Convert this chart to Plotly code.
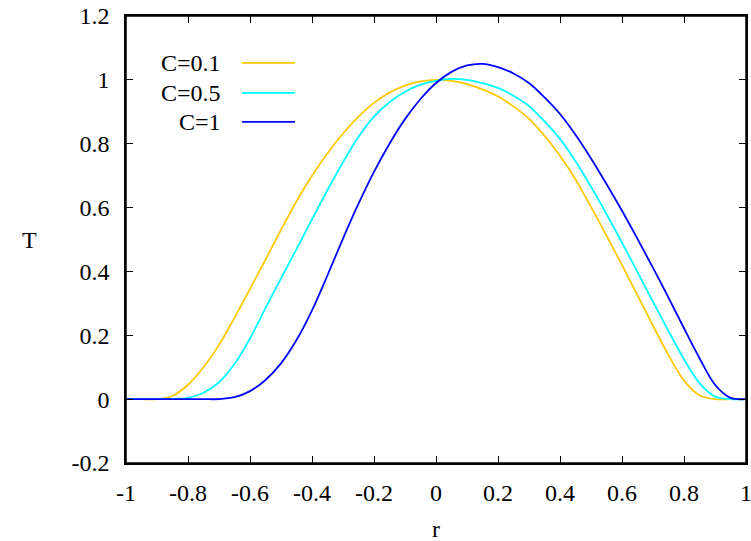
import plotly.graph_objects as go

r_vals = [-1.0, -0.95, -0.9, -0.85, -0.8, -0.75, -0.7, -0.65, -0.6, -0.55, -0.5, -0.45, -0.4,
          -0.35, -0.3, -0.25, -0.2, -0.15, -0.1, -0.05, 0.0, 0.05, 0.1, 0.15, 0.2, 0.25, 0.3,
          0.35, 0.4, 0.45, 0.5, 0.55, 0.6, 0.65, 0.7, 0.75, 0.8, 0.85, 0.9, 0.95, 1.0]

T_c01 = [0, 0, 0, 0.01, 0.045, 0.1, 0.17, 0.255, 0.345, 0.437, 0.53, 0.62, 0.70,
         0.77, 0.832, 0.885, 0.928, 0.96, 0.982, 0.995, 1.0, 0.997, 0.987, 0.97, 0.948, 0.917, 0.878,
         0.825, 0.762, 0.688, 0.602, 0.512, 0.42, 0.325, 0.23, 0.138, 0.058, 0.012, 0, 0, 0]

T_c05 = [0, 0, 0, 0, 0.004, 0.02, 0.053, 0.11, 0.19, 0.285, 0.378, 0.47, 0.563,
         0.655, 0.742, 0.822, 0.885, 0.93, 0.963, 0.985, 0.997, 1.003, 1.0, 0.99, 0.975, 0.95, 0.918,
         0.87, 0.815, 0.745, 0.665, 0.58, 0.49, 0.398, 0.305, 0.213, 0.125, 0.05, 0.008, 0, 0]

T_c1 = [0, 0, 0, 0, 0, 0, 0, 0.006, 0.025, 0.06, 0.112, 0.185, 0.278,
        0.388, 0.503, 0.612, 0.712, 0.80, 0.877, 0.94, 0.99, 1.025, 1.045, 1.05, 1.04, 1.02, 0.99,
        0.945, 0.893, 0.828, 0.754, 0.674, 0.59, 0.502, 0.411, 0.318, 0.222, 0.128, 0.045, 0.004, 0]

series_names = ["C=0.1", "C=0.5", "C=1"]
series_vals = [T_c01, T_c05, T_c1]
series_colors = ["#ffc800", "#00ffff", "#0000ff"]

x_ticks = [-1, -0.8, -0.6, -0.4, -0.2, 0, 0.2, 0.4, 0.6, 0.8, 1]
x_labels = ["-1", "-0.8", "-0.6", "-0.4", "-0.2", "0", "0.2", "0.4", "0.6", "0.8", "1"]
y_ticks = [-0.2, 0, 0.2, 0.4, 0.6, 0.8, 1, 1.2]
y_labels = ["-0.2", "0", "0.2", "0.4", "0.6", "0.8", "1", "1.2"]

FONT = "Liberation Serif"
FS = 24

fig = go.Figure()
for name, vals, col in zip(series_names, series_vals, series_colors):
    fig.add_trace(go.Scatter(x=r_vals, y=vals, mode="lines", name=name,
                             line=dict(color=col, width=1.8, shape="spline", smoothing=0.9),
                             showlegend=False))

# gnuplot-style key: text on the left, sample line on the right
key_y = [0.895, 0.828, 0.763]
for name, col, ky in zip(series_names, series_colors, key_y):
    fig.add_annotation(x=0.156, y=ky, xref="paper", yref="paper", text=name,
                       showarrow=False, xanchor="right", yanchor="middle",
                       font=dict(family=FONT, size=FS, color="black"))
    fig.add_shape(type="line", xref="paper", yref="paper", x0=0.187, x1=0.2726,
                  y0=ky, y1=ky, line=dict(color=col, width=1.8))

fig.add_annotation(x=-0.155, y=0.5, xref="paper", yref="paper", text="T",
                   showarrow=False, xanchor="center", yanchor="middle",
                   font=dict(family=FONT, size=FS, color="black"))
fig.add_annotation(x=0.5, y=-0.148, xref="paper", yref="paper", text="r",
                   showarrow=False, xanchor="center", yanchor="middle",
                   font=dict(family=FONT, size=FS, color="black"))

# plot frame
fig.add_shape(type="rect", xref="paper", yref="paper", x0=0, x1=1, y0=0, y1=1,
              line=dict(color="black", width=1.5), layer="above")

axis_common = dict(showgrid=False, zeroline=False, showline=True, linecolor="black",
                   linewidth=1.5, mirror="ticks", ticks="inside", ticklen=7,
                   tickwidth=1, tickcolor="black", automargin=False,
                   ticklabeloverflow="allow",
                   tickfont=dict(family=FONT, size=FS, color="black"))

fig.update_xaxes(range=[-1, 1], tickvals=x_ticks, ticktext=x_labels,
                 ticklabelstandoff=7, **axis_common)
fig.update_yaxes(range=[-0.2, 1.2], tickvals=y_ticks, ticktext=y_labels,
                 ticklabelstandoff=10, **axis_common)

fig.update_layout(width=751, height=541, plot_bgcolor="white", paper_bgcolor="white",
                  margin=dict(l=126, r=5, t=16, b=78), showlegend=False,
                  font=dict(family=FONT, size=FS, color="black"))

fig.write_html("out.html", config={"displayModeBar": False},
               post_script="document.body.style.margin='0';document.body.style.overflow='hidden';")
